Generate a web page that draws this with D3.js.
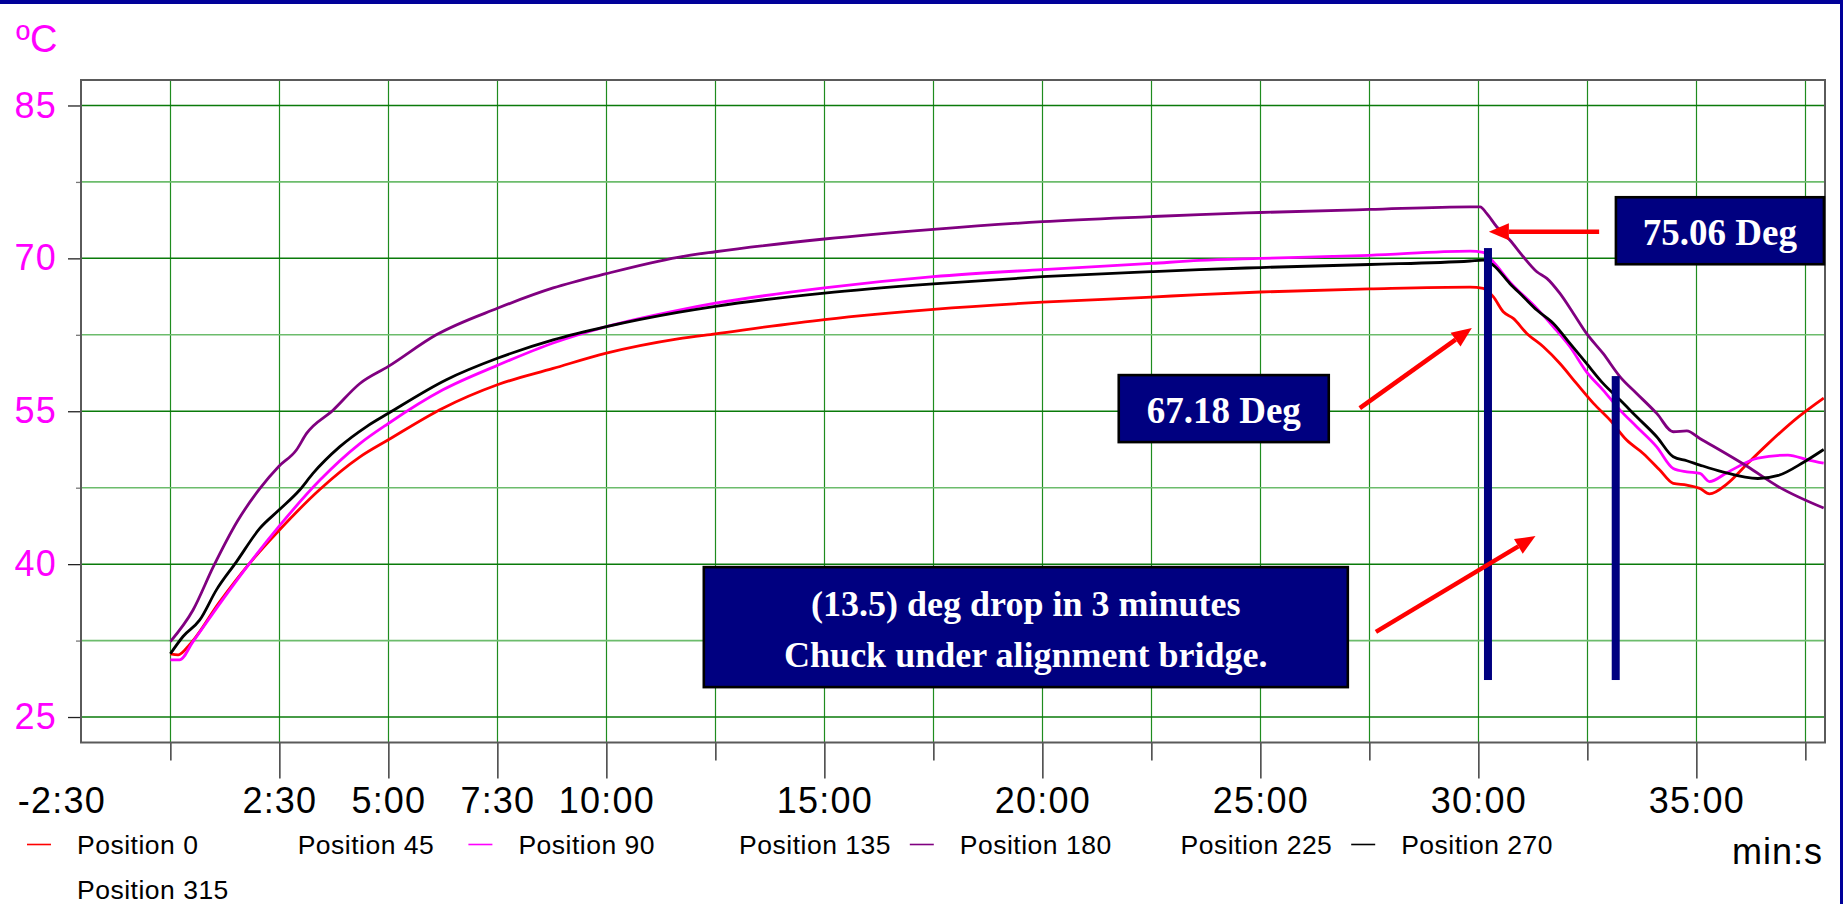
<!DOCTYPE html>
<html>
<head>
<meta charset="utf-8">
<script src="https://cdn.jsdelivr.net/npm/d3@7"></script>
<style>
  html, body { margin: 0; padding: 0; background: #ffffff; }
  svg { display: block; }
  .sans { font-family: "Liberation Sans", Arial, Helvetica, sans-serif; }
  .serif { font-family: "Liberation Serif", "Times New Roman", Times, serif; }
</style>
</head>
<body>
<svg id="chart" width="1843" height="904"></svg>
<script>
// Chuck temperature at eight positions, elapsed time (minutes) vs °C

const seriesNames  = ["Position 0", "Position 45", "Position 90", "Position 135",
                      "Position 180", "Position 225", "Position 270", "Position 315"];
const seriesColors = ["#ff0000", null, "#ff00ff", null, "#800080", null, "#000000", null];

// [minutes, °C]
const position0 = [
  [0, 31.2], [0.18, 31.1], [0.44, 32.1], [1.13, 36.3], [1.82, 40.1], [2.49, 43.3],
  [3.42, 47.3], [4.34, 50.5], [5.0, 52.2], [6.25, 55.3], [7.5, 57.6], [8.78, 59.2],
  [10.0, 60.7], [11.64, 62.1], [12.5, 62.6], [15, 64.0], [17.5, 65.0], [20, 65.7],
  [22.5, 66.2], [23.6, 66.45], [25, 66.7], [27.5, 67.0], [29.81, 67.18], [30.11, 67.05],
  [30.34, 66.24], [30.57, 64.76], [30.8, 64.11], [31.11, 62.64], [31.49, 61.33],
  [31.87, 59.69], [32.25, 57.73], [32.64, 55.77], [33.02, 54.13], [33.4, 52.17],
  [33.78, 50.86], [34.16, 49.23], [34.47, 47.92], [34.78, 47.75], [35.08, 47.43],
  [35.3, 46.9], [35.71, 47.9], [36.18, 49.9], [36.64, 51.8], [37.34, 54.45], [37.92, 56.3]
];
const position45 = [];
const position90 = [
  [0, 30.6], [0.21, 30.6], [0.52, 32.4], [1.13, 36.1], [1.82, 40.1], [2.49, 43.7],
  [3.42, 48.2], [4.34, 51.8], [5.0, 53.8], [6.25, 57.1], [7.5, 59.5], [8.78, 61.7],
  [10.0, 63.3], [11.64, 64.9], [12.5, 65.6], [15, 67.1], [17.5, 68.2], [20, 68.9],
  [22.5, 69.5], [23.6, 69.8], [25, 70.0], [27.5, 70.3], [29.81, 70.72], [30.11, 70.59],
  [30.34, 69.67], [30.72, 67.7], [31.34, 65.09], [31.72, 63.29], [32.1, 61.33],
  [32.48, 58.87], [32.86, 57.08], [33.25, 55.11], [33.63, 53.48], [34.09, 51.51],
  [34.47, 49.39], [34.78, 49.06], [35.08, 48.9], [35.3, 48.1], [35.71, 49.0],
  [36.41, 50.4], [37.1, 50.7], [37.57, 50.2], [37.92, 49.9]
];
const position135 = [];
const position180 = [
  [0, 32.4], [0.52, 35.5], [0.98, 39.7], [1.55, 44.3], [2.05, 47.4], [2.49, 49.6],
  [2.89, 51.2], [3.12, 52.8], [3.73, 55.1], [4.34, 57.7], [5.0, 59.4], [6.1, 62.5],
  [7.5, 65.1], [8.78, 67.1], [10.0, 68.5], [11.64, 70.1], [12.5, 70.65], [15, 71.9],
  [17.5, 72.85], [20, 73.6], [22.5, 74.1], [23.6, 74.3], [25, 74.5], [27.5, 74.8],
  [29.81, 75.06], [30.04, 75.06], [30.19, 74.41], [30.42, 73.1], [30.72, 71.8],
  [31.03, 70.16], [31.34, 68.69], [31.57, 68.04], [31.87, 66.56], [32.18, 64.6],
  [32.48, 62.64], [32.86, 60.67], [33.25, 58.38], [33.63, 56.75], [34.09, 54.79],
  [34.47, 52.99], [34.78, 53.08], [35.08, 52.33], [36.18, 49.55], [36.88, 47.6], [37.92, 45.5]
];
const position225 = [];
const position270 = [
  [0, 31.2], [0.29, 32.9], [0.67, 34.5], [1.06, 37.5], [1.51, 40.2], [2.05, 43.5],
  [2.49, 45.3], [2.97, 47.3], [3.27, 48.9], [3.88, 51.5], [4.5, 53.5], [5.0, 54.8],
  [6.33, 58.1], [7.5, 60.2], [8.78, 62.0], [10.0, 63.3], [11.64, 64.7], [12.5, 65.3],
  [15, 66.6], [17.5, 67.5], [20, 68.2], [22.5, 68.7], [23.6, 68.9], [25, 69.1],
  [27.5, 69.4], [29.81, 69.74], [30.11, 69.83], [30.34, 69.34], [30.72, 67.54],
  [31.03, 66.24], [31.34, 64.93], [31.72, 63.62], [32.1, 61.66], [32.48, 59.69],
  [32.86, 57.73], [33.25, 56.1], [33.63, 54.46], [34.09, 52.5], [34.47, 50.53],
  [34.78, 50.14], [35.08, 49.72], [35.6, 49.05], [36.41, 48.4], [36.88, 48.7],
  [37.46, 50.0], [37.92, 51.25]
];
const position315 = [];

const seriesValues = [position0, position45, position90, position135,
                      position180, position225, position270, position315];

// axis ticks
const xTickValues = [-2.5, 2.5, 5, 7.5, 10, 15, 20, 25, 30, 35];
const xTickLabels = ["-2:30", "2:30", "5:00", "7:30", "10:00", "15:00", "20:00", "25:00", "30:00", "35:00"];
const xMinorTicks = [0, 12.5, 17.5, 22.5, 27.5, 32.5, 37.5];
const xGridValues = [0, 2.5, 5, 7.5, 10, 12.5, 15, 17.5, 20, 22.5, 25, 27.5, 30, 32.5, 35, 37.5];
const yTickValues = [25, 40, 55, 70, 85];
const yTickLabels = ["25", "40", "55", "70", "85"];
const yMinorTicks = [32.5, 47.5, 62.5, 77.5];

// callouts: [minutes, °C] anchors
const calloutBoxes = [
  { lines: ["75.06 Deg"], at: [35.54, 72.71], w: 208, h: 67, size: 37, base: [14.5] },
  { lines: ["67.18 Deg"], at: [24.16, 55.26], w: 210, h: 67, size: 37, base: [14.5] },
  { lines: ["(13.5) deg drop in 3 minutes", "Chuck under alignment bridge."],
    at: [19.62, 33.82], w: 644, h: 120, size: 36, base: [-11, 40] }
];
const calloutArrows = [
  { from: [32.77, 72.61], to: [30.24, 72.61] },
  { from: [27.28, 55.31], to: [29.85, 63.16] },
  { from: [27.65, 33.36], to: [31.31, 42.75] }
];
const dropMarkers = [
  { t: 30.22, from: 28.63, to: 71.01 },
  { t: 33.15, from: 28.63, to: 58.45 }
];

const svg = d3.select("#chart");
const W = 1843, H = 904;
const plot = { left: 81, right: 1825, top: 80, bottom: 742.5 };

const x = d3.scaleLinear().domain([-2.05, 37.95]).range([plot.left, plot.right]);
const y = d3.scaleLinear().domain([22.5, 87.5]).range([plot.bottom, plot.top]);

svg.append("rect").attr("width", W).attr("height", H).attr("fill", "#ffffff");

// clip for plotted content
svg.append("defs").append("clipPath").attr("id", "plotClip")
  .append("rect")
  .attr("x", plot.left).attr("y", plot.top)
  .attr("width", plot.right - plot.left).attr("height", plot.bottom - plot.top);

// grid
const grid = svg.append("g").attr("clip-path", "url(#plotClip)");
grid.selectAll("line.vg").data(xGridValues).join("line")
  .attr("class", "vg")
  .attr("x1", d => Math.round(x(d)) + 0.5).attr("x2", d => Math.round(x(d)) + 0.5)
  .attr("y1", plot.top).attr("y2", plot.bottom)
  .attr("stroke", "#1f8c1f").attr("stroke-width", 1.2);
grid.selectAll("line.hmin").data(yMinorTicks).join("line")
  .attr("class", "hmin")
  .attr("x1", plot.left).attr("x2", plot.right)
  .attr("y1", d => y(d)).attr("y2", d => y(d))
  .attr("stroke", "#6cbc6c").attr("stroke-width", 1.6);
grid.selectAll("line.hmaj").data(yTickValues).join("line")
  .attr("class", "hmaj")
  .attr("x1", plot.left).attr("x2", plot.right)
  .attr("y1", d => y(d)).attr("y2", d => y(d))
  .attr("stroke", "#0a7a0a").attr("stroke-width", 1.5);

// axes
const tickFont = 36;
const yAxis = d3.axisLeft(y).tickValues(yTickValues)
  .tickFormat((d, i) => yTickLabels[i]).tickSize(13).tickPadding(11);
const yAxisMinor = d3.axisLeft(y).tickValues(yMinorTicks).tickFormat("").tickSize(5);
const xAxis = d3.axisBottom(x).tickValues(xTickValues)
  .tickFormat((d, i) => xTickLabels[i]).tickSize(36).tickPadding(9);
const xAxisMinor = d3.axisBottom(x).tickValues(xMinorTicks).tickFormat("").tickSize(18);

function styleAxis(g, color) {
  g.select(".domain").remove();
  g.selectAll(".tick line").attr("stroke", "#222").attr("stroke-width", 1.3);
  g.selectAll(".tick text")
    .attr("class", "sans")
    .attr("fill", color)
    .style("font-size", tickFont + "px")
    .style("letter-spacing", "1.2px");
}

svg.append("g").attr("transform", `translate(${plot.left},0)`).call(yAxisMinor).call(g => styleAxis(g, "#ff00ff"))
  .selectAll(".tick line").attr("stroke", "#777");
svg.append("g").attr("transform", `translate(${plot.left},0)`).call(yAxis).call(g => styleAxis(g, "#ff00ff"));
svg.append("g").attr("transform", `translate(0,${plot.bottom})`).call(xAxisMinor).call(g => styleAxis(g, "#000"));
const xg = svg.append("g").attr("transform", `translate(0,${plot.bottom})`).call(xAxis).call(g => styleAxis(g, "#000"));
// the -2:30 position sits left of the frame, so it carries a label only
xg.selectAll(".tick").filter(d => x(d) < plot.left).select("line").remove();

// series lines
const line = d3.line()
  .x(d => x(d[0])).y(d => y(d[1]))
  .curve(d3.curveMonotoneX);

const lines = svg.append("g").attr("clip-path", "url(#plotClip)");
seriesValues.forEach((vals, i) => {
  if (!seriesColors[i] || vals.length === 0) return;
  lines.append("path")
    .datum(vals)
    .attr("fill", "none")
    .attr("stroke", seriesColors[i])
    .attr("stroke-width", 2.8)
    .attr("stroke-linejoin", "round")
    .attr("d", line);
});

// plot frame
svg.append("rect")
  .attr("x", plot.left).attr("y", plot.top)
  .attr("width", plot.right - plot.left).attr("height", plot.bottom - plot.top)
  .attr("fill", "none").attr("stroke", "#5a5a5a").attr("stroke-width", 2);

// unit labels
svg.append("text").attr("class", "sans")
  .attr("x", 16).attr("y", 52)
  .attr("fill", "#ff00ff").style("font-size", "38px")
  .text("ºC");
svg.append("text").attr("class", "sans")
  .attr("x", 1823).attr("y", 864).attr("text-anchor", "end")
  .attr("fill", "#000").style("font-size", "36px").style("letter-spacing", "1px")
  .text("min:s");

// legend
const legend = svg.append("g");
seriesNames.forEach((name, i) => {
  const col = i % 7, row = Math.floor(i / 7);
  const tx = 77 + col * 220.7;
  const ty = 854 + row * 45;
  if (seriesColors[i]) {
    legend.append("line")
      .attr("x1", tx - 50).attr("x2", tx - 26)
      .attr("y1", 844.5).attr("y2", 844.5)
      .attr("stroke", seriesColors[i]).attr("stroke-width", 1.6);
  }
  legend.append("text").attr("class", "sans")
    .attr("x", tx).attr("y", ty)
    .attr("fill", "#000").style("font-size", "26.5px").style("letter-spacing", "0.5px")
    .text(name);
});

// drop markers
svg.append("g").selectAll("rect").data(dropMarkers).join("rect")
  .attr("x", d => x(d.t) - 4).attr("width", 8)
  .attr("y", d => y(d.to)).attr("height", d => y(d.from) - y(d.to))
  .attr("fill", "#000080");

// arrows
const arrows = svg.append("g");
calloutArrows.forEach(a => {
  const x1 = x(a.from[0]), y1 = y(a.from[1]);
  const x2 = x(a.to[0]), y2 = y(a.to[1]);
  const ang = Math.atan2(y2 - y1, x2 - x1);
  const headLen = 20, headHalf = 8.5;
  const bx = x2 - headLen * Math.cos(ang), by = y2 - headLen * Math.sin(ang);
  arrows.append("line")
    .attr("x1", x1).attr("y1", y1).attr("x2", bx).attr("y2", by)
    .attr("stroke", "#ff0000").attr("stroke-width", 4.5);
  const px = -Math.sin(ang), py = Math.cos(ang);
  arrows.append("path")
    .attr("d", `M${x2},${y2}L${bx + px * headHalf},${by + py * headHalf}L${bx - px * headHalf},${by - py * headHalf}Z`)
    .attr("fill", "#ff0000");
});

// callout boxes
const boxes = svg.append("g");
calloutBoxes.forEach(b => {
  const cx = x(b.at[0]), cy = y(b.at[1]);
  boxes.append("rect")
    .attr("x", cx - b.w / 2).attr("y", cy - b.h / 2)
    .attr("width", b.w).attr("height", b.h)
    .attr("fill", "#000080").attr("stroke", "#000").attr("stroke-width", 2.6);
  b.lines.forEach((t, j) => {
    boxes.append("text").attr("class", "serif")
      .attr("x", cx).attr("y", cy + b.base[j])
      .attr("text-anchor", "middle")
      .attr("fill", "#ffffff")
      .style("font-size", b.size + "px").style("font-weight", "bold")
      .text(t);
  });
});

// slide frame
svg.append("rect").attr("x", 0).attr("y", 0).attr("width", W).attr("height", 4).attr("fill", "#000099");
svg.append("rect").attr("x", 1840).attr("y", 0).attr("width", 3).attr("height", H).attr("fill", "#000099");
</script>
</body>
</html>
